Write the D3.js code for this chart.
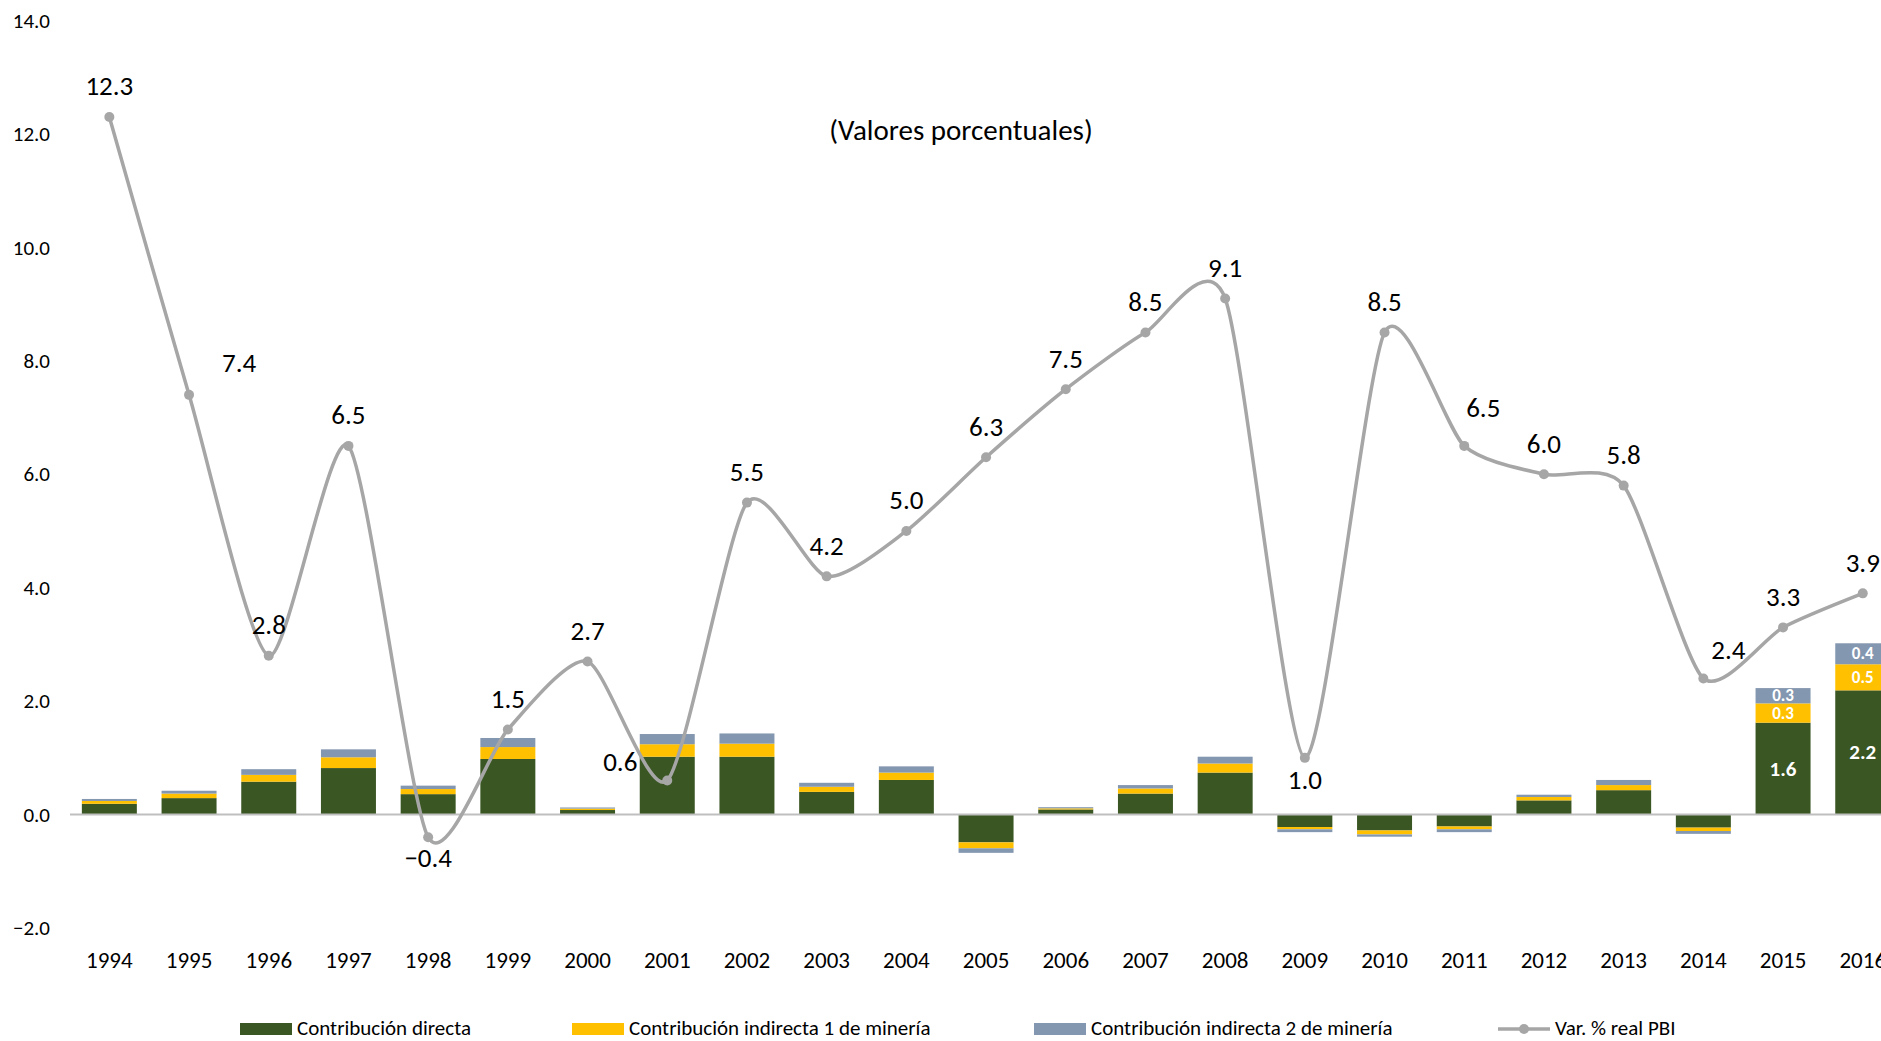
<!DOCTYPE html>
<html>
<head>
<meta charset="utf-8">
<script src="https://cdn.jsdelivr.net/npm/d3@7"></script>
<style>
  html, body { margin: 0; padding: 0; background: #fff; overflow: hidden; }
  svg { display: block; font-family: Carlito, Calibri, Lato, sans-serif; }
</style>
</head>
<body>
<svg id="chart" width="1881" height="1041"></svg>
<script>
// ---- data ----
const years = ["1994","1995","1996","1997","1998","1999","2000","2001","2002","2003","2004","2005","2006","2007","2008","2009","2010","2011","2012","2013","2014","2015","2016"];
const directa    = [0.19, 0.29, 0.58, 0.82, 0.36, 0.98, 0.08, 1.02, 1.02, 0.40, 0.61, -0.49, 0.09, 0.37, 0.74, -0.22, -0.28, -0.21, 0.25, 0.43, -0.23, 1.62, 2.19];
const indirecta1 = [0.05, 0.08, 0.12, 0.19, 0.09, 0.21, 0.025, 0.22, 0.23, 0.09, 0.13, -0.105, 0.02, 0.09, 0.16, -0.04, -0.07, -0.05, 0.06, 0.09, -0.06, 0.34, 0.46];
const indirecta2 = [0.035, 0.05, 0.10, 0.14, 0.06, 0.16, 0.02, 0.18, 0.18, 0.07, 0.11, -0.08, 0.02, 0.06, 0.12, -0.05, -0.04, -0.05, 0.04, 0.09, -0.05, 0.27, 0.37];
const pbi = [12.3, 7.4, 2.8, 6.5, -0.4, 1.5, 2.7, 0.6, 5.5, 4.2, 5.0, 6.3, 7.5, 8.5, 9.1, 1.0, 8.5, 6.5, 6.0, 5.8, 2.4, 3.3, 3.9];
const yTicks = [-2, 0, 2, 4, 6, 8, 10, 12, 14];
const seriesNames = ["Contribución directa", "Contribución indirecta 1 de minería", "Contribución indirecta 2 de minería"];
const lineName = "Var. % real PBI";
const barLabelYears = ["2015", "2016"];
const title = "(Valores porcentuales)";

// ---- styling ----
const colors = ["#3a5623", "#ffc000", "#8497b0"];
const lineColor = "#a6a6a6";
const FONT = "Carlito, Calibri, Lato, sans-serif";

const svg = d3.select("#chart");
const W = 1881, H = 1041;

const x = d3.scaleBand().domain(years).range([69.5, 69.5 + 23 * 79.7]).paddingInner(0.31).paddingOuter(0.155);
const y = d3.scaleLinear().domain([-2, 14]).range([928, 20.5]);

// y tick labels
const yAxis = d3.axisLeft(y).tickValues(yTicks).tickFormat(d3.format(".1f")).tickSize(0).tickPadding(0);
const ya = svg.append("g").attr("transform", "translate(50,0)").call(yAxis);
ya.select(".domain").remove();
ya.selectAll("text").attr("font-size", 21).attr("fill", "#000").attr("font-family", FONT);

// title
svg.append("text").attr("x", 961).attr("y", 130).attr("text-anchor", "middle")
  .attr("dominant-baseline", "central").attr("font-size", 29).attr("fill", "#000").text(title);

// stacked bars
const rows = years.map((yr, i) => ({ year: yr, a: directa[i], b: indirecta1[i], c: indirecta2[i] }));
const stack = d3.stack().keys(["a", "b", "c"]).offset(d3.stackOffsetDiverging);
const stacked = stack(rows);

const gBars = svg.append("g");
stacked.forEach((layer, li) => {
  gBars.selectAll(null).data(layer).enter().append("rect")
    .attr("x", d => x(d.data.year))
    .attr("width", x.bandwidth())
    .attr("y", d => y(Math.max(d[0], d[1])))
    .attr("height", d => Math.abs(y(d[0]) - y(d[1])))
    .attr("fill", colors[li]);
});

// bar value labels
stacked.forEach((layer, li) => {
  gBars.selectAll(null).data(layer.filter(d => barLabelYears.includes(d.data.year))).enter().append("text")
    .attr("x", d => x(d.data.year) + x.bandwidth() / 2)
    .attr("y", d => (y(d[0]) + y(d[1])) / 2)
    .attr("text-anchor", "middle").attr("dominant-baseline", "central")
    .attr("font-size", li === 0 ? 21 : 17).attr("font-weight", "bold").attr("fill", "#fff")
    .text(d => d3.format(".1f")(d[1] - d[0]));
});

// zero line
svg.append("line").attr("x1", 70).attr("x2", W).attr("y1", y(0)).attr("y2", y(0))
  .attr("stroke", "#bfbfbf").attr("stroke-width", 2);

// line series
const cx = yr => x(yr) + x.bandwidth() / 2;
const line = d3.line().x((d, i) => cx(years[i])).y(d => y(d)).curve(d3.curveCardinal.tension(0.3));
svg.append("path").datum(pbi).attr("d", line).attr("fill", "none")
  .attr("stroke", lineColor).attr("stroke-width", 3.5);
svg.selectAll(null).data(pbi).enter().append("circle")
  .attr("cx", (d, i) => cx(years[i])).attr("cy", d => y(d)).attr("r", 5).attr("fill", lineColor);

// line data labels
const labelOffset = {
  "1995": [50, -32], "1998": [0, 20], "2001": [-47, -19], "2009": [0, 22],
  "2011": [19, -38], "2014": [25, -29]
};
svg.selectAll(null).data(pbi).enter().append("text")
  .attr("x", (d, i) => cx(years[i]) + (labelOffset[years[i]] || [0, -31])[0])
  .attr("y", (d, i) => y(d) + (labelOffset[years[i]] || [0, -31])[1])
  .attr("text-anchor", "middle").attr("dominant-baseline", "central")
  .attr("font-size", 27).attr("fill", "#000")
  .text(d => d3.format(".1f")(d));

// x labels
const xa = svg.append("g").attr("transform", `translate(0,${960})`)
  .call(d3.axisBottom(x).tickSize(0).tickPadding(0));
xa.select(".domain").remove();
xa.selectAll("text").attr("font-size", 23).attr("fill", "#000").attr("dy", "0")
  .attr("dominant-baseline", "central").attr("font-family", FONT);

// legend
const legY = 1028;
const legItems = [
  { x: 240, type: "rect", color: colors[0], name: seriesNames[0] },
  { x: 572, type: "rect", color: colors[1], name: seriesNames[1] },
  { x: 1034, type: "rect", color: colors[2], name: seriesNames[2] },
  { x: 1498, type: "line", color: lineColor, name: lineName }
];
const lg = svg.append("g");
legItems.forEach(it => {
  if (it.type === "rect") {
    lg.append("rect").attr("x", it.x).attr("y", legY - 5).attr("width", 52).attr("height", 12).attr("fill", it.color);
  } else {
    lg.append("line").attr("x1", it.x).attr("x2", it.x + 52).attr("y1", legY + 1).attr("y2", legY + 1)
      .attr("stroke", it.color).attr("stroke-width", 3.5);
    lg.append("circle").attr("cx", it.x + 26).attr("cy", legY + 1).attr("r", 5).attr("fill", it.color);
  }
  lg.append("text").attr("x", it.x + 57).attr("y", legY).attr("dominant-baseline", "central")
    .attr("font-size", 21).attr("fill", "#000").text(it.name);
});
</script>
</body>
</html>
